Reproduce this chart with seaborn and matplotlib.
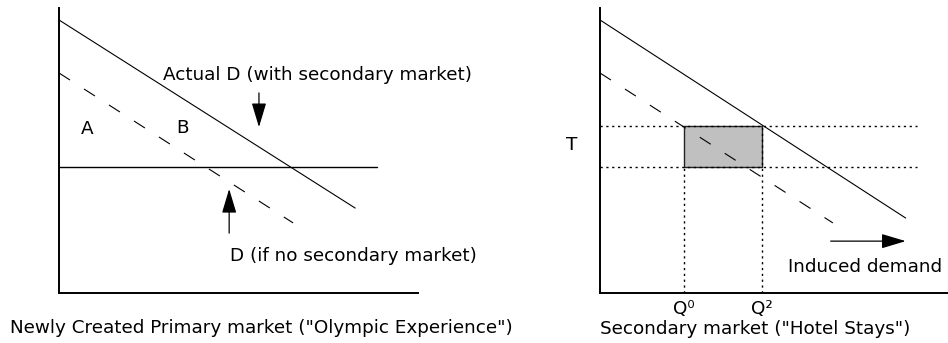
import matplotlib
matplotlib.use("Agg")
import matplotlib.pyplot as plt
import seaborn as sns
from matplotlib.patches import Rectangle

# ------------------------------
# Diagram data (quantity / price units, 0-100 scale)
# ------------------------------
actual_q = [0, 82.5]        # Actual D (with secondary market)
actual_p = [95.8, 29.8]
noseco_q = [0, 65.2]        # D (if no secondary market)
noseco_p = [77.2, 24.6]
price_line_q = [0, 88.6]    # horizontal price line, left panel
price_line_p = [44.2, 44.2]

# right panel
hotel_actual_q = [0, 85.2]
hotel_actual_p = [95.8, 26.3]
hotel_noseco_q = [0, 64.9]
hotel_noseco_p = [77.2, 24.6]
t_upper = 58.6
t_lower = 44.2
q0 = 23.4
q2 = 45.1
dotted_end = 88.3
q_labels = ["Q\u2070", "Q\u00b2"]

left_xlabel = 'Newly Created Primary market ("Olympic Experience")'
right_xlabel = 'Secondary market ("Hotel Stays")'

sns.set_style("white")
plt.rcParams["font.family"] = ["DejaVu Sans"]
plt.rcParams["text.color"] = "black"
FS = 13.2

fig = plt.figure(figsize=(9.48, 3.43), dpi=100)
ax1 = fig.add_axes([59 / 948, 50 / 343, 359 / 948, 285 / 343])
ax2 = fig.add_axes([600 / 948, 50 / 343, 348 / 948, 285 / 343])

for ax, xmax in [(ax1, 100), (ax2, 97)]:
    ax.set_xlim(0, xmax)
    ax.set_ylim(0, 100)
    sns.despine(ax=ax)
    for s in ["left", "bottom"]:
        ax.spines[s].set_color("black")
        ax.spines[s].set_linewidth(1.4)
    ax.set_xticks([])
    ax.set_yticks([])
    ax.patch.set_alpha(0)

dash = (0, (11.7, 15))
dot = (0, (1.6, 2.6))
arrow = dict(arrowstyle="-|>,head_length=1.5,head_width=0.45",
             mutation_scale=10, color="black", lw=0.9, shrinkA=0, shrinkB=0)

# ------------------------------
# Left panel: primary market
# ------------------------------
sns.lineplot(x=actual_q, y=actual_p, ax=ax1, color="black", lw=0.8)
sns.lineplot(x=noseco_q, y=noseco_p, ax=ax1, color="black", lw=0.8, linestyle=dash)
sns.lineplot(x=price_line_q, y=price_line_p, ax=ax1, color="black", lw=1.0)

ax1.text(7.8, 57.5, "A", fontsize=FS, ha="center", va="center")
ax1.text(34.3, 57.9, "B", fontsize=FS, ha="center", va="center")
ax1.text(29, 76.5, "Actual D (with secondary market)", fontsize=FS, va="center")
ax1.annotate("", xy=(55.7, 58.2), xytext=(55.7, 70.2), arrowprops=arrow)
ax1.annotate("", xy=(47.4, 36.5), xytext=(47.4, 21), arrowprops=arrow)
ax1.text(47.6, 13, "D (if no secondary market)", fontsize=FS, va="center")
ax1.text(-13.6, -12.3, left_xlabel, fontsize=FS, va="center", clip_on=False)

# ------------------------------
# Right panel: secondary market
# ------------------------------
ax2.add_patch(Rectangle((q0, t_lower), q2 - q0, t_upper - t_lower,
                        facecolor="#c0c0c0", edgecolor="#222222", lw=1.0, zorder=1))
sns.lineplot(x=hotel_actual_q, y=hotel_actual_p, ax=ax2, color="black", lw=0.8)
sns.lineplot(x=hotel_noseco_q, y=hotel_noseco_p, ax=ax2, color="black", lw=0.8, linestyle=dash)
for t in [t_upper, t_lower]:
    ax2.hlines(t, 0, dotted_end, color="black", lw=1.0, linestyles=[dot])
ax2.vlines(q0, 0, t_lower, color="black", lw=1.0, linestyles=[dot])
ax2.vlines(q2, 0, t_upper, color="black", lw=1.0, linestyles=[dot])

ax2.text(-7.8, 52, "T", fontsize=FS, ha="center", va="center")
for q, lab in zip([q0, q2], q_labels):
    ax2.text(q, -5.5, lab, fontsize=FS, ha="center", va="center")
ax2.annotate("", xy=(85.2, 18.2), xytext=(64.3, 18.2), arrowprops=arrow)
ax2.text(52.4, 9.1, "Induced demand", fontsize=FS, va="center")
ax2.text(43.2, -12.6, right_xlabel, fontsize=FS, ha="center", va="center", clip_on=False)

fig.savefig("out.png", dpi=100)
